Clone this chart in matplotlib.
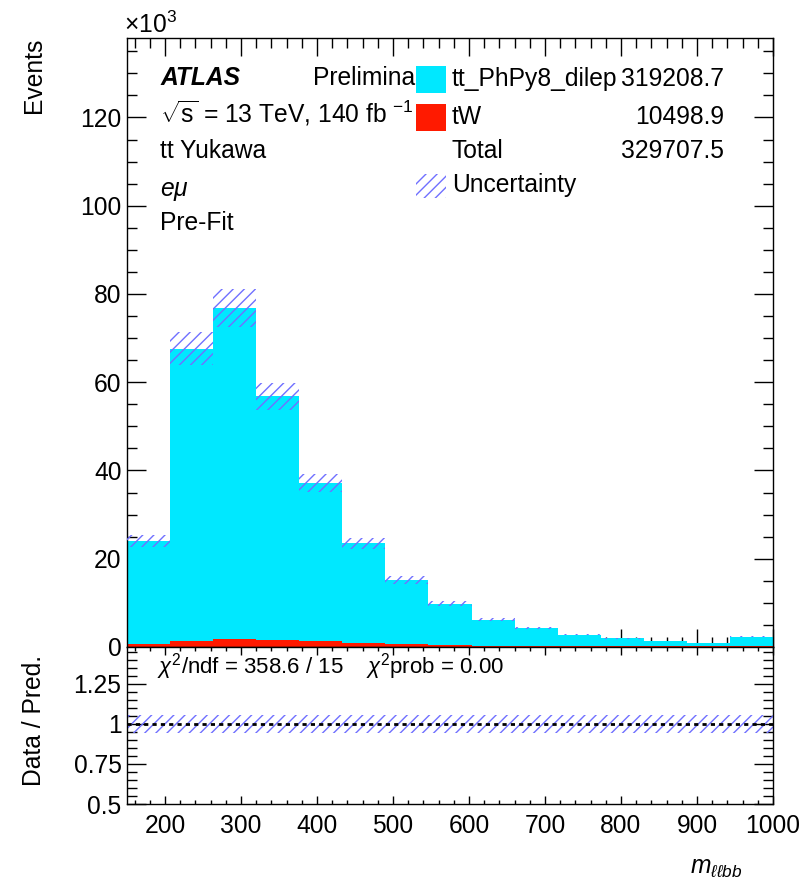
import numpy as np
import matplotlib
matplotlib.use("Agg")
import matplotlib.pyplot as plt
from matplotlib.ticker import MultipleLocator, FuncFormatter
from matplotlib.patches import Rectangle

FONT = 'Liberation Sans'
plt.rcParams['font.family'] = [FONT, 'DejaVu Sans']
plt.rcParams['mathtext.fontset'] = 'custom'
plt.rcParams['mathtext.rm'] = FONT
plt.rcParams['mathtext.it'] = FONT + ':italic'
plt.rcParams['mathtext.bf'] = FONT + ':bold'
plt.rcParams['hatch.linewidth'] = 1.0

# ---------------- data ----------------
bin_edges = [150.0, 206.67, 263.33, 320.0, 376.67, 433.33, 490.0, 546.67,
             603.33, 660.0, 716.67, 773.33, 830.0, 886.67, 943.33, 1000.0]
tt_values = [23380, 66290, 74950, 55160, 35780, 22490, 14580, 9410,
             5880, 3880, 2580, 1850, 1200, 750, 2020]
tw_values = [620, 1310, 1850, 1640, 1420, 1010, 620, 390,
             320, 320, 220, 150, 150, 150, 330]
rel_unc = [0.055, 0.055, 0.055, 0.055, 0.055, 0.055, 0.055, 0.055,
           0.055, 0.055, 0.055, 0.055, 0.055, 0.055, 0.055]
legend_names = ["tt_PhPy8_dilep", "tW", "Total", "Uncertainty"]
legend_yields = ["319208.7", "10498.9", "329707.5", ""]
x_ticks = [200, 300, 400, 500, 600, 700, 800, 900, 1000]
ratio_ticks = [0.5, 0.75, 1.0, 1.25]
chi2_text = r"$\chi^{2}$/ndf = 358.6 / 15    $\chi^{2}$prob = 0.00"

col_tt = '#00e8ff'
col_tw = '#ff1a00'
col_unc = '#7070ff'

edges = np.array(bin_edges)
tt = np.array(tt_values, dtype=float)
tw = np.array(tw_values, dtype=float)
unc = np.array(rel_unc)
total = tt + tw

W, H = 800, 881
fig = plt.figure(figsize=(W / 100, H / 100), dpi=100)
L, R = 127 / W, 773 / W
ax = fig.add_axes([L, 1 - 647 / H, R - L, (647 - 38) / H])
axr = fig.add_axes([L, 1 - 804 / H, R - L, (804 - 647) / H])

FS = 17.7

# main panel
ax.stairs(tw, edges, baseline=0, fill=True, color=col_tw, lw=0, zorder=2)
ax.stairs(total, edges, baseline=tw, fill=True, color=col_tt, lw=0, zorder=2)
ax.stairs(total * (1 + unc), edges, baseline=total * (1 - unc), fill=True,
          facecolor='none', edgecolor=col_unc, hatch='///', lw=0, zorder=3)
ax.set_xlim(150, 1000)
ax.set_ylim(0, 138000)

for a in (ax, axr):
    a.tick_params(which='both', direction='in', top=True, right=True,
                  labelsize=FS, width=1.0, color='black')
    a.tick_params(axis='y', which='major', length=14, pad=4)
    a.tick_params(axis='y', which='minor', length=7)
    a.xaxis.set_major_locator(MultipleLocator(100))
    a.xaxis.set_minor_locator(MultipleLocator(20))
    for s in a.spines.values():
        s.set_linewidth(1.0)

ax.tick_params(axis='x', which='major', length=13)
ax.tick_params(axis='x', which='minor', length=7)
axr.tick_params(axis='x', which='major', length=6, pad=7)
axr.tick_params(axis='x', which='minor', length=3)

ax.set_xticks(x_ticks)
ax.tick_params(labelbottom=False)
ax.yaxis.set_major_locator(MultipleLocator(20000))
ax.yaxis.set_minor_locator(MultipleLocator(5000))
ax.yaxis.set_major_formatter(FuncFormatter(lambda v, p: f"{v/1000:g}"))

fig.text(124 / W, 1 - 33 / H, r"$\times$10$^{3}$", fontsize=FS, ha='left', va='baseline')
fig.text(22 / W, 1 - 38 / H, "Events", fontsize=FS, rotation=90, ha='left', va='top')

# ATLAS labels
fig.text(160 / W, 1 - 85 / H, "ATLAS", fontsize=FS, fontweight='bold', style='italic',
         ha='left', va='baseline')
fig.text(313 / W, 1 - 85 / H, "Preliminary", fontsize=FS, ha='left', va='baseline', zorder=1)
fig.text(160 / W, 1 - 123 / H, r"$\sqrt{\mathrm{s}}$ = 13 TeV, 140 fb $^{-1}$", fontsize=FS,
         ha='left', va='baseline')
fig.text(160 / W, 1 - 158 / H, "tt Yukawa", fontsize=FS, ha='left', va='baseline')
fig.text(160 / W, 1 - 196 / H, r"$e\mu$", fontsize=FS, ha='left', va='baseline')
fig.text(160 / W, 1 - 230 / H, "Pre-Fit", fontsize=FS, ha='left', va='baseline')

# legend (manual, ROOT-like)
row_base = [86, 124, 158, 192]
box_x0, box_x1 = 416, 446
for i, name in enumerate(legend_names):
    yb = row_base[i]
    ytop = yb - 20
    ybot = yb + 7
    if i == 0:
        fig.patches.append(Rectangle((box_x0 / W, 1 - ybot / H), (box_x1 - box_x0) / W,
                                     (ybot - ytop) / H, transform=fig.transFigure,
                                     facecolor=col_tt, edgecolor='none', zorder=5))
    elif i == 1:
        fig.patches.append(Rectangle((box_x0 / W, 1 - ybot / H), (box_x1 - box_x0) / W,
                                     (ybot - ytop) / H, transform=fig.transFigure,
                                     facecolor=col_tw, edgecolor='none', zorder=5))
    elif i == 3:
        fig.patches.append(Rectangle((box_x0 / W, 1 - (yb + 6) / H), (box_x1 - box_x0) / W,
                                     24 / H, transform=fig.transFigure,
                                     facecolor='none', edgecolor=col_unc, hatch='///',
                                     lw=0, zorder=5))
    fig.text(452 / W, 1 - yb / H, name, fontsize=FS, ha='left', va='baseline', zorder=4)
    if legend_yields[i]:
        fig.text(724 / W, 1 - yb / H, legend_yields[i], fontsize=FS, ha='right',
                 va='baseline', zorder=6)

# ratio panel
axr.stairs(1 + unc, edges, baseline=1 - unc, fill=True, facecolor='none',
           edgecolor=col_unc, hatch='///', lw=0, zorder=2)
axr.axhline(1.0, color='black', lw=2.0, ls=(0, (1.5, 1.5)), zorder=3)
axr.set_xlim(150, 1000)
axr.set_ylim(0.5, 1.48)
axr.set_xticks(x_ticks)
axr.set_yticks(ratio_ticks)
axr.yaxis.set_minor_locator(MultipleLocator(0.05))
axr.yaxis.set_major_formatter(FuncFormatter(lambda v, p: f"{v:g}"))
axr.text(0.047, 0.975, chi2_text, transform=axr.transAxes, fontsize=16,
         ha='left', va='top')
fig.text(22 / W, 1 - 720 / H, "Data / Pred.", fontsize=FS, rotation=90,
         ha='left', va='center')
fig.text(742 / W, 1 - 873 / H, r"$m_{\ell\ell bb}$", fontsize=FS, ha='right', va='baseline')

fig.savefig("out.png", dpi=100)
